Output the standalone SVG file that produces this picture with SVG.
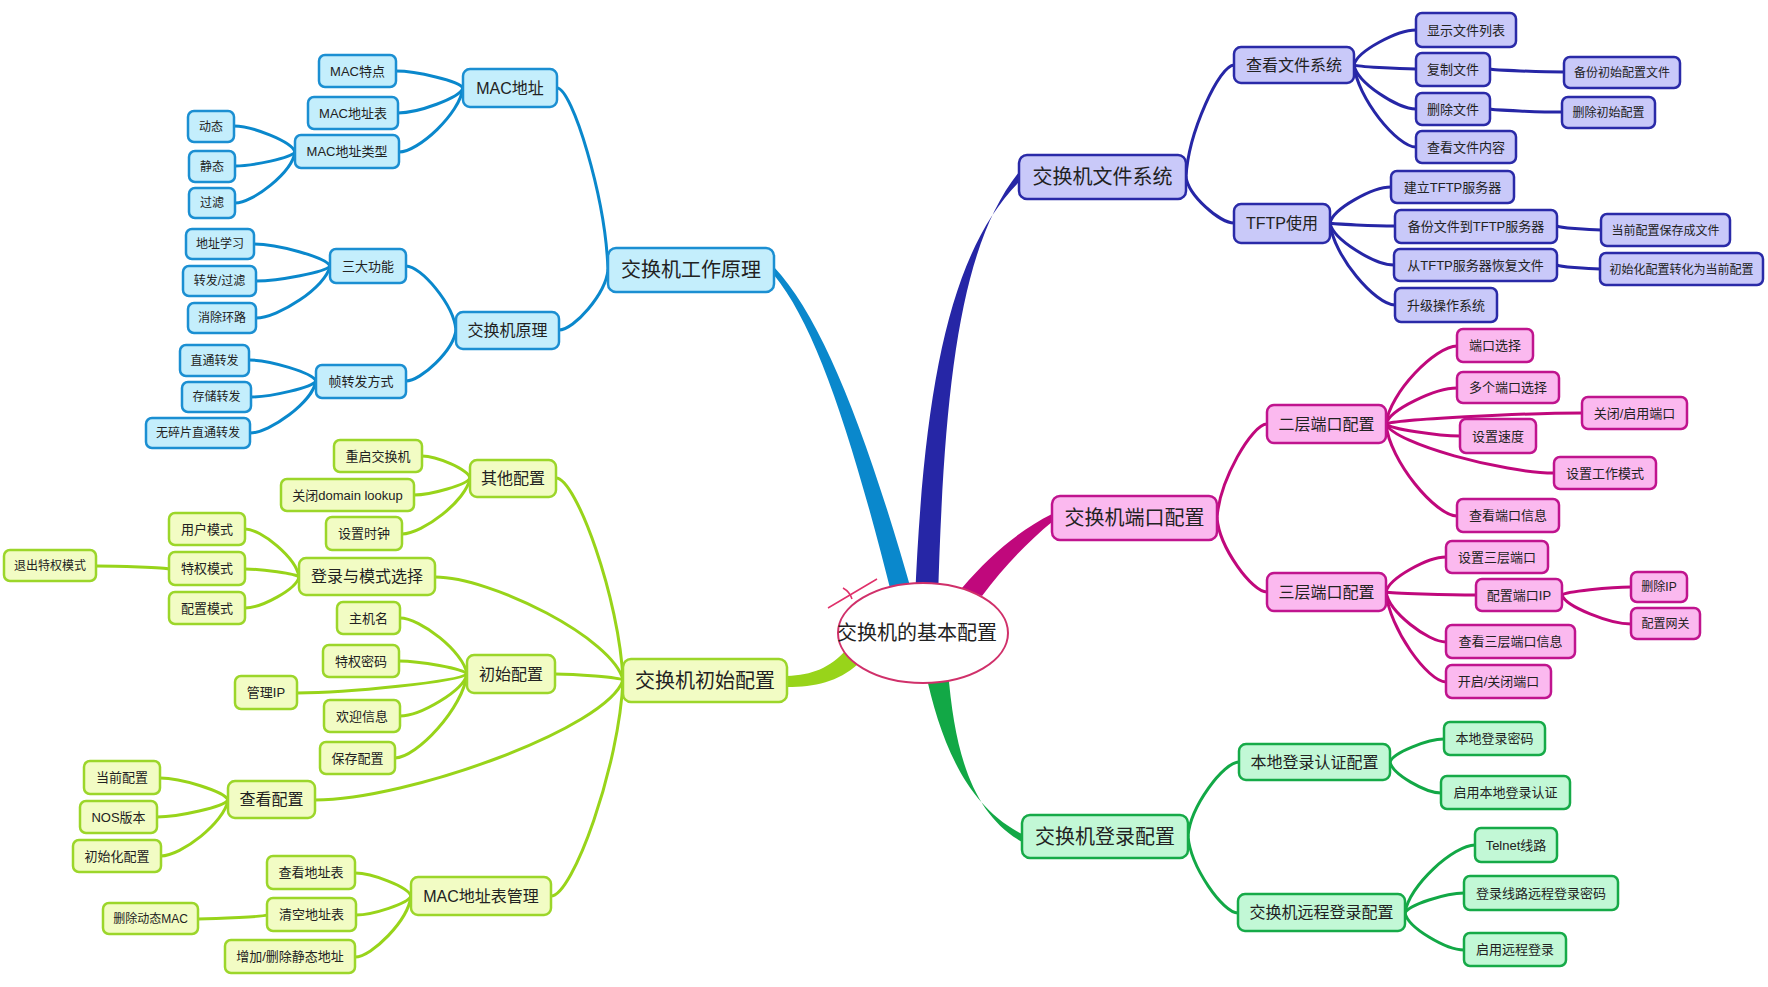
<svg xmlns="http://www.w3.org/2000/svg" width="1768" height="987" viewBox="0 0 1768 987">
<style>
text{font-family:"Liberation Sans","Noto Sans CJK SC",sans-serif;fill:#222;text-anchor:middle}
.f20{font-size:20px}.f16{font-size:16px}.f13{font-size:13px}.f12{font-size:12px}
rect{stroke-width:2.5}
.bl rect{fill:#c4eefc;stroke:#1b8fd2}
.nv rect{fill:#c9c9f9;stroke:#2a2aa8}
.mg rect{fill:#fbb9ef;stroke:#c0148e}
.gr rect{fill:#c2f8d6;stroke:#16aa48}
.yg rect{fill:#f2fcc4;stroke:#9cd62a}
.c path{fill:none;stroke-width:3;stroke-linecap:round}
.cbl path{stroke:#0a88cc}.cnv path{stroke:#2626a6}.cmg path{stroke:#c0087c}.cgr path{stroke:#12a846}.cyg path{stroke:#98d41a}
</style>
<rect x="0" y="0" width="1768" height="987" fill="#fff" stroke="none"/>
<g id="connectors">
<g id="trunks">
<path d="M774,267 C822,318 866,430 914,600 L893,600 C852,436 816,326 774,275 Z" fill="#0a88cc"/>
<path d="M1019,172 C960,245 944,385 938,600 L915,600 C924,385 950,252 1019,182 Z" fill="#2626a6"/>
<path d="M1052,514 C1020,530 990,555 962,588 L982,596 C1005,565 1030,540 1052,522 Z" fill="#c0087c"/>
<path d="M925,670 C940,740 965,805 1022,834 L1022,842 C975,815 955,760 948,670 Z" fill="#12a846"/>
<path d="M787,676 C812,675 830,668 846,650 L858,664 C838,682 815,687 787,687 Z" fill="#98d41a"/>
</g>
<g class="c cbl">
<path d="M608,270 C605.5,197 572,88 557,88"/>
<path d="M608,270 C605.5,294 574,330 559,330"/>
<path d="M463,88 C459.6,81.2 416.1,71 396,71"/>
<path d="M463,88 C459.7,98 417.5,113 398,113"/>
<path d="M463,88 C459.8,113.6 418.2,152 399,152"/>
<path d="M295,152 C292,141.6 252.3,126 234,126"/>
<path d="M295,152 C292,157.6 253,166 235,166"/>
<path d="M295,152 C292,172.4 253,203 235,203"/>
<path d="M456,330 C453.5,304.4 421,266 406,266"/>
<path d="M456,330 C453.5,350.4 421,381 406,381"/>
<path d="M330,266 C326.2,257.2 276.8,244 254,244"/>
<path d="M330,266 C326.3,272 278.2,281 256,281"/>
<path d="M330,266 C326.3,286.8 278.2,318 256,318"/>
<path d="M316,381 C312.6,372.6 269.1,360 249,360"/>
<path d="M316,381 C312.7,387.4 270.5,397 251,397"/>
<path d="M316,381 C312.7,401.8 269.8,433 250,433"/>
</g>
<g class="c cnv">
<path d="M1186,177 C1188.4,132.2 1219.6,65 1234,65"/>
<path d="M1186,177 C1188.4,195.4 1219.6,223 1234,223"/>
<path d="M1354,65 C1357.1,51 1397.4,30 1416,30"/>
<path d="M1354,65 C1357.1,66.6 1397.4,69 1416,69"/>
<path d="M1354,65 C1357.1,82.6 1397.4,109 1416,109"/>
<path d="M1354,65 C1357.1,97.8 1397.4,147 1416,147"/>
<path d="M1490,69 C1493.7,70.2 1541.8,72 1564,72"/>
<path d="M1490,109 C1493.6,110.2 1540.4,112 1562,112"/>
<path d="M1330,223 C1333,208.6 1372.7,187 1391,187"/>
<path d="M1330,223 C1333.2,224.2 1375.5,226 1395,226"/>
<path d="M1330,223 C1333.2,239.8 1374.8,265 1394,265"/>
<path d="M1330,223 C1333.2,255.8 1375.5,305 1395,305"/>
<path d="M1557,226 C1559.2,227.6 1587.8,230 1601,230"/>
<path d="M1557,265 C1559.2,266.6 1587.1,269 1600,269"/>
</g>
<g class="c cmg">
<path d="M1217,518 C1219.5,480.4 1252,424 1267,424"/>
<path d="M1217,518 C1219.5,547.6 1252,592 1267,592"/>
<path d="M1386,424 C1389.5,392.8 1435.7,346 1457,346"/>
<path d="M1386,424 C1389.5,409.6 1435.7,388 1457,388"/>
<path d="M1386,424 C1395.8,419.6 1523.2,413 1582,413"/>
<path d="M1386,424 C1389.7,428.8 1437.8,436 1460,436"/>
<path d="M1386,424 C1394.4,443.6 1503.6,473 1554,473"/>
<path d="M1386,424 C1389.5,460.8 1435.7,516 1457,516"/>
<path d="M1386,592 C1389,578 1428,557 1446,557"/>
<path d="M1386,592 C1390.5,593.2 1449,595 1476,595"/>
<path d="M1386,592 C1389,612 1428,642 1446,642"/>
<path d="M1386,592 C1389,628 1428,682 1446,682"/>
<path d="M1562,595 C1565.4,591.8 1610.3,587 1631,587"/>
<path d="M1562,595 C1565.4,606.6 1610.3,624 1631,624"/>
</g>
<g class="c cgr">
<path d="M1188,836 C1190.5,806.4 1223.7,762 1239,762"/>
<path d="M1188,836 C1190.5,866.8 1223,913 1238,913"/>
<path d="M1390,762 C1392.7,752.8 1427.8,739 1444,739"/>
<path d="M1390,762 C1392.5,774.4 1425.7,793 1441,793"/>
<path d="M1405,913 C1408.5,885.8 1454,845 1475,845"/>
<path d="M1405,913 C1408,905 1446.3,893 1464,893"/>
<path d="M1405,913 C1408,927.8 1446.3,950 1464,950"/>
</g>
<g class="c cyg">
<path d="M623,680 C619.6,599.2 576.1,478 556,478"/>
<path d="M623,680 C613.6,638.8 491.4,577 435,577"/>
<path d="M623,680 C619.6,677.6 575.4,674 555,674"/>
<path d="M623,680 C607.6,728 407.4,800 315,800"/>
<path d="M623,680 C619.4,766.4 572.6,896 551,896"/>
<path d="M470,478 C467.6,469.2 436.4,456 422,456"/>
<path d="M470,478 C467.2,484.8 430.8,495 414,495"/>
<path d="M470,478 C466.6,500.4 422.4,534 402,534"/>
<path d="M299,577 C296.3,557.8 261.2,529 245,529"/>
<path d="M299,577 C296.3,573.8 261.2,569 245,569"/>
<path d="M299,577 C296.3,589.4 261.2,608 245,608"/>
<path d="M169,569 C165.3,567.8 117.9,566 96,566"/>
<path d="M467,674 C463.6,651.6 420.1,618 400,618"/>
<path d="M467,674 C463.6,668.8 419.4,661 399,661"/>
<path d="M467,674 C458.5,681.6 348,693 297,693"/>
<path d="M467,674 C463.6,690.8 420.1,716 400,716"/>
<path d="M467,674 C463.4,707.6 416.6,758 395,758"/>
<path d="M228,800 C224.6,791.2 180.4,778 160,778"/>
<path d="M228,800 C224.4,806.8 178.3,817 157,817"/>
<path d="M228,800 C224.6,822.4 181.1,856 161,856"/>
<path d="M411,896 C408.2,886.8 371.8,873 355,873"/>
<path d="M411,896 C408.2,903.6 372.5,915 356,915"/>
<path d="M411,896 C408.2,920.4 371.8,957 355,957"/>
<path d="M267,915 C263.5,916.6 218.7,919 198,919"/>
</g>
</g>

<g id="center">
<ellipse cx="923" cy="633" rx="85" ry="50" fill="#fff" stroke="#d0306a" stroke-width="2"/>
<path d="M828,608 L877,579" stroke="#e0306a" stroke-width="1.5" fill="none"/>
<path d="M843,588 Q850,592 852,599" stroke="#e0306a" stroke-width="1.5" fill="none"/>
<text class="f20" x="917" y="640">交换机的基本配置</text>
</g>

<!-- blue branch -->
<g class="bl">
<g id="n-gzyl"><rect x="608" y="248" width="166" height="44" rx="8"/><text class="f20" x="691" y="277">交换机工作原理</text></g>
<g id="n-mac"><rect x="463" y="69" width="94" height="38" rx="7"/><text class="f16" x="510" y="94">MAC地址</text></g>
<g id="n-jhjyl"><rect x="456" y="312" width="103" height="37" rx="7"/><text class="f16" x="507.5" y="336">交换机原理</text></g>
<g id="n-mactd"><rect x="319" y="55" width="77" height="32" rx="6"/><text class="f13" x="357.5" y="76">MAC特点</text></g>
<g id="n-macb"><rect x="308" y="97" width="90" height="32" rx="6"/><text class="f13" x="353" y="118">MAC地址表</text></g>
<g id="n-maclx"><rect x="295" y="135" width="104" height="33" rx="6"/><text class="f13" x="347" y="156">MAC地址类型</text></g>
<g id="n-dt"><rect x="188" y="111" width="46" height="31" rx="6"/><text class="f12" x="211" y="131">动态</text></g>
<g id="n-jt"><rect x="189" y="151" width="46" height="31" rx="6"/><text class="f12" x="212" y="171">静态</text></g>
<g id="n-gl"><rect x="189" y="188" width="46" height="30" rx="6"/><text class="f12" x="212" y="207">过滤</text></g>
<g id="n-sdgn"><rect x="330" y="249" width="76" height="34" rx="6"/><text class="f13" x="368" y="271">三大功能</text></g>
<g id="n-zzf"><rect x="316" y="365" width="90" height="33" rx="6"/><text class="f13" x="361" y="386">帧转发方式</text></g>
<g id="n-dzxx"><rect x="186" y="229" width="68" height="30" rx="6"/><text class="f12" x="220" y="248">地址学习</text></g>
<g id="n-zfgl"><rect x="183" y="266" width="73" height="30" rx="6"/><text class="f12" x="219.5" y="285">转发/过滤</text></g>
<g id="n-xchl"><rect x="188" y="303" width="68" height="30" rx="6"/><text class="f12" x="222" y="322">消除环路</text></g>
<g id="n-ztzf"><rect x="180" y="345" width="69" height="31" rx="6"/><text class="f12" x="214.5" y="365">直通转发</text></g>
<g id="n-cczf"><rect x="182" y="382" width="69" height="30" rx="6"/><text class="f12" x="216.5" y="401">存储转发</text></g>
<g id="n-wsp"><rect x="146" y="418" width="104" height="30" rx="6"/><text class="f12" x="198" y="437">无碎片直通转发</text></g>
</g>

<!-- navy branch -->
<g class="nv">
<g id="n-wjxt"><rect x="1019" y="155" width="167" height="44" rx="8"/><text class="f20" x="1102.5" y="184">交换机文件系统</text></g>
<g id="n-ckwjxt"><rect x="1234" y="47" width="120" height="36" rx="7"/><text class="f16" x="1294" y="70.5">查看文件系统</text></g>
<g id="n-tftp"><rect x="1234" y="204" width="96" height="39" rx="7"/><text class="f16" x="1282" y="229">TFTP使用</text></g>
<g id="n-xswj"><rect x="1416" y="13" width="100" height="34" rx="6"/><text class="f13" x="1466" y="34.5">显示文件列表</text></g>
<g id="n-fzwj"><rect x="1416" y="53" width="74" height="33" rx="6"/><text class="f13" x="1453" y="74">复制文件</text></g>
<g id="n-scwj"><rect x="1416" y="93" width="74" height="32" rx="6"/><text class="f13" x="1453" y="113.5">删除文件</text></g>
<g id="n-ckwjnr"><rect x="1416" y="131" width="100" height="32" rx="6"/><text class="f13" x="1466" y="151.5">查看文件内容</text></g>
<g id="n-bfcs"><rect x="1564" y="57" width="116" height="31" rx="6"/><text class="f12" x="1622" y="76.5">备份初始配置文件</text></g>
<g id="n-sccs"><rect x="1562" y="97" width="93" height="31" rx="6"/><text class="f12" x="1608.5" y="116.5">删除初始配置</text></g>
<g id="n-jltftp"><rect x="1391" y="171" width="123" height="32" rx="6"/><text class="f13" x="1452.5" y="191.5">建立TFTP服务器</text></g>
<g id="n-bfdtftp"><rect x="1395" y="210" width="162" height="33" rx="6"/><text class="f13" x="1476" y="231">备份文件到TFTP服务器</text></g>
<g id="n-cthf"><rect x="1394" y="249" width="163" height="32" rx="6"/><text class="f13" x="1475.5" y="269.5">从TFTP服务器恢复文件</text></g>
<g id="n-sjcz"><rect x="1395" y="288" width="102" height="34" rx="6"/><text class="f13" x="1446" y="309.5">升级操作系统</text></g>
<g id="n-dqbc"><rect x="1601" y="214" width="129" height="32" rx="6"/><text class="f12" x="1665.5" y="234.5">当前配置保存成文件</text></g>
<g id="n-cshzh"><rect x="1600" y="253" width="163" height="32" rx="6"/><text class="f12" x="1681.5" y="273.5">初始化配置转化为当前配置</text></g>
</g>

<!-- magenta branch -->
<g class="mg">
<g id="n-dkpz"><rect x="1052" y="496" width="165" height="44" rx="8"/><text class="f20" x="1134.5" y="525">交换机端口配置</text></g>
<g id="n-ec"><rect x="1267" y="405" width="119" height="38" rx="7"/><text class="f16" x="1326.5" y="430">二层端口配置</text></g>
<g id="n-sc"><rect x="1267" y="573" width="119" height="38" rx="7"/><text class="f16" x="1326.5" y="598">三层端口配置</text></g>
<g id="n-dkxz"><rect x="1457" y="329" width="76" height="33" rx="6"/><text class="f13" x="1495" y="350">端口选择</text></g>
<g id="n-dgdk"><rect x="1457" y="372" width="102" height="31" rx="6"/><text class="f13" x="1508" y="392">多个端口选择</text></g>
<g id="n-gbqy"><rect x="1582" y="397" width="105" height="32" rx="6"/><text class="f13" x="1634.5" y="417.5">关闭/启用端口</text></g>
<g id="n-szsd"><rect x="1460" y="419" width="76" height="34" rx="6"/><text class="f13" x="1498" y="440.5">设置速度</text></g>
<g id="n-szgz"><rect x="1554" y="457" width="102" height="32" rx="6"/><text class="f13" x="1605" y="477.5">设置工作模式</text></g>
<g id="n-ckdk"><rect x="1457" y="499" width="102" height="33" rx="6"/><text class="f13" x="1508" y="520">查看端口信息</text></g>
<g id="n-szsc"><rect x="1446" y="541" width="102" height="32" rx="6"/><text class="f13" x="1497" y="561.5">设置三层端口</text></g>
<g id="n-pzip"><rect x="1476" y="579" width="86" height="32" rx="6"/><text class="f13" x="1519" y="599.5">配置端口IP</text></g>
<g id="n-scip"><rect x="1631" y="572" width="56" height="30" rx="6"/><text class="f12" x="1659" y="591">删除IP</text></g>
<g id="n-pzwg"><rect x="1631" y="608" width="69" height="31" rx="6"/><text class="f12" x="1665.5" y="628">配置网关</text></g>
<g id="n-cksc"><rect x="1446" y="625" width="129" height="33" rx="6"/><text class="f13" x="1510.5" y="646">查看三层端口信息</text></g>
<g id="n-kqgb"><rect x="1446" y="665" width="105" height="33" rx="6"/><text class="f13" x="1498.5" y="686">开启/关闭端口</text></g>
</g>

<!-- green branch -->
<g class="gr">
<g id="n-dlpz"><rect x="1022" y="815" width="166" height="43" rx="8"/><text class="f20" x="1105" y="843.5">交换机登录配置</text></g>
<g id="n-bdrz"><rect x="1239" y="744" width="151" height="36" rx="7"/><text class="f16" x="1314.5" y="767.5">本地登录认证配置</text></g>
<g id="n-ycdl"><rect x="1238" y="894" width="167" height="37" rx="7"/><text class="f16" x="1321.5" y="918">交换机远程登录配置</text></g>
<g id="n-bdmm"><rect x="1444" y="722" width="101" height="33" rx="6"/><text class="f13" x="1494.5" y="743">本地登录密码</text></g>
<g id="n-qybd"><rect x="1441" y="776" width="129" height="33" rx="6"/><text class="f13" x="1505.5" y="797">启用本地登录认证</text></g>
<g id="n-telnet"><rect x="1475" y="828" width="82" height="34" rx="6"/><text class="f13" x="1516" y="849.5">Telnet线路</text></g>
<g id="n-xlmm"><rect x="1464" y="876" width="154" height="34" rx="6"/><text class="f13" x="1541" y="897.5">登录线路远程登录密码</text></g>
<g id="n-qyyc"><rect x="1464" y="933" width="102" height="33" rx="6"/><text class="f13" x="1515" y="954">启用远程登录</text></g>
</g>

<!-- yellow-green branch -->
<g class="yg">
<g id="n-cspz"><rect x="623" y="659" width="164" height="43" rx="8"/><text class="f20" x="705" y="687.5">交换机初始配置</text></g>
<g id="n-qtpz"><rect x="470" y="460" width="86" height="37" rx="7"/><text class="f16" x="513" y="484">其他配置</text></g>
<g id="n-dlms"><rect x="299" y="558" width="136" height="37" rx="7"/><text class="f16" x="367" y="582">登录与模式选择</text></g>
<g id="n-cs"><rect x="467" y="655" width="88" height="38" rx="7"/><text class="f16" x="511" y="680">初始配置</text></g>
<g id="n-ckpz"><rect x="228" y="781" width="87" height="37" rx="7"/><text class="f16" x="271.5" y="805">查看配置</text></g>
<g id="n-macgl"><rect x="411" y="877" width="140" height="38" rx="7"/><text class="f16" x="481" y="902">MAC地址表管理</text></g>
<g id="n-cqjhj"><rect x="334" y="440" width="88" height="32" rx="6"/><text class="f13" x="378" y="460.5">重启交换机</text></g>
<g id="n-domain"><rect x="281" y="479" width="133" height="32" rx="6"/><text class="f13" x="347.5" y="499.5">关闭domain lookup</text></g>
<g id="n-szsz"><rect x="326" y="517" width="76" height="33" rx="6"/><text class="f13" x="364" y="538">设置时钟</text></g>
<g id="n-yhms"><rect x="169" y="513" width="76" height="32" rx="6"/><text class="f13" x="207" y="533.5">用户模式</text></g>
<g id="n-tqms"><rect x="169" y="552" width="76" height="33" rx="6"/><text class="f13" x="207" y="573">特权模式</text></g>
<g id="n-pzms"><rect x="169" y="592" width="76" height="32" rx="6"/><text class="f13" x="207" y="612.5">配置模式</text></g>
<g id="n-tctq"><rect x="4" y="550" width="92" height="31" rx="6"/><text class="f12" x="50" y="570">退出特权模式</text></g>
<g id="n-zjm"><rect x="337" y="602" width="63" height="32" rx="6"/><text class="f13" x="368.5" y="622.5">主机名</text></g>
<g id="n-tqmm"><rect x="323" y="645" width="76" height="32" rx="6"/><text class="f13" x="361" y="665.5">特权密码</text></g>
<g id="n-glip"><rect x="235" y="676" width="62" height="33" rx="6"/><text class="f13" x="266" y="697">管理IP</text></g>
<g id="n-hyxx"><rect x="324" y="700" width="76" height="32" rx="6"/><text class="f13" x="362" y="720.5">欢迎信息</text></g>
<g id="n-bcpz"><rect x="320" y="742" width="75" height="32" rx="6"/><text class="f13" x="357.5" y="762.5">保存配置</text></g>
<g id="n-dqpz"><rect x="84" y="761" width="76" height="33" rx="6"/><text class="f13" x="122" y="782">当前配置</text></g>
<g id="n-nos"><rect x="80" y="801" width="77" height="32" rx="6"/><text class="f13" x="118.5" y="821.5">NOS版本</text></g>
<g id="n-cshpz"><rect x="73" y="840" width="88" height="32" rx="6"/><text class="f13" x="117" y="860.5">初始化配置</text></g>
<g id="n-ckdzb"><rect x="267" y="856" width="88" height="33" rx="6"/><text class="f13" x="311" y="877">查看地址表</text></g>
<g id="n-qkdzb"><rect x="267" y="898" width="89" height="33" rx="6"/><text class="f13" x="311.5" y="919">清空地址表</text></g>
<g id="n-zjsc"><rect x="225" y="940" width="130" height="33" rx="6"/><text class="f13" x="290" y="961">增加/删除静态地址</text></g>
<g id="n-scdt"><rect x="103" y="903" width="95" height="31" rx="6"/><text class="f12" x="150.5" y="923">删除动态MAC</text></g>
</g>
</svg>
